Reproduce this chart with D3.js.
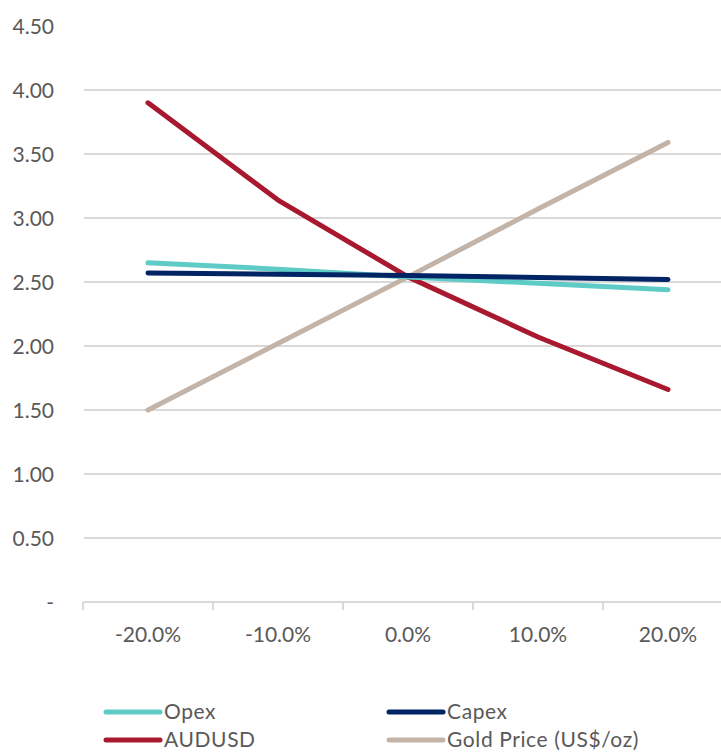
<!DOCTYPE html>
<html>
<head>
<meta charset="utf-8">
<script src="https://cdn.jsdelivr.net/npm/d3@7"></script>
<style>
  html, body { margin: 0; padding: 0; background: #fff; }
  svg { display: block; font-family: Lato, "Open Sans", sans-serif; }
</style>
</head>
<body>
<svg id="chart" width="721" height="754"></svg>
<script>
// Sensitivity scenarios (change in each input)
const categories = ["-20.0%", "-10.0%", "0.0%", "10.0%", "20.0%"];

// Series values
const opex  = [2.65, 2.60, 2.54, 2.49, 2.44];
const capex = [2.57, 2.56, 2.55, 2.535, 2.52];
const audusd = [3.90, 3.14, 2.54, 2.07, 1.66];
const gold  = [1.50, 2.02, 2.54, 3.07, 3.59];

const seriesNames = ["Opex", "Capex", "AUDUSD", "Gold Price (US$/oz)"];
const seriesColors = ["#5ECBC6", "#002464", "#A8182E", "#C4B4A8"];

// Y-axis ticks
const yTicks = [0, 0.5, 1.0, 1.5, 2.0, 2.5, 3.0, 3.5, 4.0, 4.5];

const svg = d3.select("#chart");

const x = d3.scaleBand().domain(categories).range([83, 733]);
const y = d3.scaleLinear().domain([0, 4.5]).range([602, 26]);

// Horizontal gridlines (none at the top tick)
svg.append("g")
  .selectAll("line")
  .data(yTicks.filter(d => d > 0 && d < 4.5))
  .join("line")
  .attr("x1", 84).attr("x2", 721)
  .attr("y1", d => y(d)).attr("y2", d => y(d))
  .attr("stroke", "#d9d9d9").attr("stroke-width", 2);

// Y-axis labels
const yAxis = d3.axisLeft(y)
  .tickValues(yTicks)
  .tickSize(0)
  .tickPadding(0)
  .tickFormat(d => d === 0 ? "-" : d3.format(".2f")(d));
svg.append("g")
  .attr("transform", "translate(54,0)")
  .call(yAxis)
  .call(g => g.select(".domain").remove())
  .call(g => g.selectAll("text")
    .attr("fill", "#595959")
    .attr("font-family", "Lato, 'Open Sans', sans-serif")
    .attr("font-size", 21)
    .attr("dy", "0.35em"));

// X axis: baseline with ticks between categories
const xAxisG = svg.append("g");
xAxisG.append("line")
  .attr("x1", 83).attr("x2", 721)
  .attr("y1", y(0)).attr("y2", y(0))
  .attr("stroke", "#d9d9d9").attr("stroke-width", 2);
xAxisG.selectAll("line.tick")
  .data(categories)
  .join("line")
  .attr("class", "tick")
  .attr("x1", d => x(d)).attr("x2", d => x(d))
  .attr("y1", y(0)).attr("y2", y(0) + 8)
  .attr("stroke", "#d9d9d9").attr("stroke-width", 2);
xAxisG.selectAll("text")
  .data(categories)
  .join("text")
  .attr("x", d => x(d) + x.bandwidth() / 2)
  .attr("y", 642)
  .attr("text-anchor", "middle")
  .attr("fill", "#595959")
  .attr("font-size", 21)
  .text(d => d);

// Lines
const allSeries = [opex, capex, audusd, gold];
const line = d3.line()
  .x((d, i) => x(categories[i]) + x.bandwidth() / 2)
  .y(d => y(d));

const drawOrder = [3, 2, 0, 1];
svg.append("g")
  .selectAll("path")
  .data(drawOrder)
  .join("path")
  .attr("d", i => line(allSeries[i]))
  .attr("fill", "none")
  .attr("stroke", i => seriesColors[i])
  .attr("stroke-width", 5)
  .attr("stroke-linecap", "round")
  .attr("stroke-linejoin", "round");

// Legend
const legendPos = [
  { x: 106, y: 712 },
  { x: 389, y: 712 },
  { x: 106, y: 740 },
  { x: 389, y: 740 }
];
const legend = svg.append("g")
  .selectAll("g")
  .data(seriesNames)
  .join("g")
  .attr("transform", (d, i) => `translate(${legendPos[i].x},${legendPos[i].y})`);
legend.append("line")
  .attr("x1", 0).attr("x2", 54)
  .attr("stroke", (d, i) => seriesColors[i])
  .attr("stroke-width", 5)
  .attr("stroke-linecap", "round");
legend.append("text")
  .attr("x", 58)
  .attr("dy", "0.34em")
  .attr("fill", "#595959")
  .attr("font-size", 21)
  .attr("letter-spacing", 0.6)
  .text(d => d);
</script>
</body>
</html>
